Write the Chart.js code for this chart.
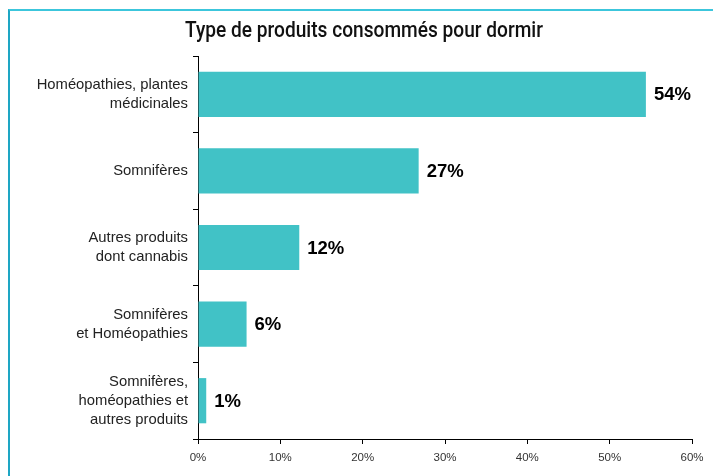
<!DOCTYPE html>
<html lang="fr">
<head>
<meta charset="UTF-8">
<title>Type de produits consommés pour dormir</title>
<script src="https://cdn.jsdelivr.net/npm/chart.js"></script>
<style>
    html, body { margin: 0; padding: 0; background: #fff; }
    .wrap { position: relative; width: 713px; height: 476px; }
    .frame {
        position: absolute; left: 8px; top: 9px; right: -5px; bottom: -5px;
        border-top: 2px solid #3cc6dc;
        border-left: 2px solid #1ea6c4;
    }
    canvas { position: absolute; left: 0; top: 0; }
    .title {
        position: absolute; left: 364px; top: 17px;
        margin: 0; white-space: nowrap; line-height: 26px;
        font-family: Roboto, "Noto Sans", sans-serif;
        font-size: 22px; font-weight: 500; color: #111;
        transform-origin: 0 0;
    }
</style>
</head>
<body>
<div class="wrap">
    <div class="frame"></div>
    <canvas id="sleepChart" width="713" height="476"></canvas>
    <h1 class="title" id="title">Type de produits consommés pour dormir</h1>
</div>
<script>
    // catégories (axe vertical)
    const categories = [
        ['Homéopathies, plantes', 'médicinales'],
        'Somnifères',
        ['Autres produits', 'dont cannabis'],
        ['Somnifères', 'et Homéopathies'],
        ['Somnifères,', 'homéopathies et', 'autres produits']
    ];
    // parts en %
    const shares = [54.4, 26.8, 12.3, 5.9, 1.0];
    const xTicks = [0, 10, 20, 30, 40, 50, 60];

    // titre resserré comme dans l'original (police condensée)
    const title = document.getElementById('title');
    const w = title.getBoundingClientRect().width;
    const k = 358 / w;
    title.style.transform = 'translateX(' + (-179) + 'px) scaleX(' + k + ')';

    // étiquettes de valeur au bout des barres
    const valueLabels = {
        id: 'valueLabels',
        afterDatasetsDraw(chart) {
            const ctx = chart.ctx;
            const meta = chart.getDatasetMeta(0);
            ctx.save();
            ctx.font = 'bold 18.5px "Liberation Sans", Arial, sans-serif';
            ctx.fillStyle = '#000';
            ctx.textBaseline = 'middle';
            meta.data.forEach((bar, i) => {
                ctx.fillText(Math.round(shares[i]) + '%', bar.x + 8, bar.y + 1);
            });
            ctx.restore();
        }
    };

    new Chart(document.getElementById('sleepChart'), {
        type: 'bar',
        data: {
            labels: categories,
            datasets: [{
                data: shares,
                backgroundColor: '#41c2c6',
                borderWidth: 0,
                barPercentage: 0.59,
                categoryPercentage: 1
            }]
        },
        options: {
            indexAxis: 'y',
            responsive: false,
            animation: false,
            layout: { padding: { left: 0, right: 21, top: 56, bottom: 0 } },
            plugins: {
                legend: { display: false },
                tooltip: { enabled: false }
            },
            scales: {
                x: {
                    min: 0,
                    max: 60,
                    afterBuildTicks(scale) {
                        scale.ticks = xTicks.map(v => ({ value: v }));
                    },
                    afterFit(scale) { scale.height = 37; },
                    ticks: {
                        callback: v => v + '%',
                        color: '#333',
                        padding: 7,
                        maxRotation: 0,
                        font: { family: '"Liberation Sans", Arial, sans-serif', size: 11.5 }
                    },
                    grid: { drawOnChartArea: false, tickLength: 5, color: '#000' },
                    border: { display: true, color: '#000', width: 1 }
                },
                y: {
                    afterFit(scale) { scale.width = 198; },
                    ticks: {
                        color: '#222',
                        padding: 5,
                        font: { family: '"Liberation Sans", Arial, sans-serif', size: 14.8, lineHeight: 1.28 }
                    },
                    grid: { drawOnChartArea: false, tickLength: 5, color: '#000', offset: true },
                    border: { display: true, color: '#000', width: 1 }
                }
            }
        },
        plugins: [valueLabels]
    });
</script>
</body>
</html>
